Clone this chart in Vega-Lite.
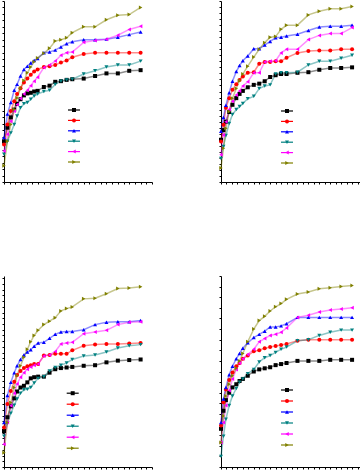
{
"$schema":"https://vega.github.io/schema/vega-lite/v6.json",
"background":"white",
"padding":{"left":1,"top":0,"right":0,"bottom":0},
"config":{"view":{"stroke":null},"axis":{"labels":false,"title":null,"grid":false,"domainColor":"black","tickColor":"black","tickSize":2,"domainWidth":1,"tickWidth":1},
"legend":{"orient":"none","title":null,"labelFontSize":10,"labelOffset":0,"symbolStrokeWidth":1.2,"rowPadding":0.4,"padding":0,"symbolOpacity":1}},
"datasets":{"d":[
{"p":1,"s":"a","x":0,"y":6.3},{"p":1,"s":"a","x":0.6,"y":8.4},{"p":1,"s":"a","x":1.2,"y":10.0},{"p":1,"s":"a","x":1.8,"y":11.2},{"p":1,"s":"a","x":2.3,"y":12.1},{"p":1,"s":"a","x":2.9,"y":12.8},{"p":1,"s":"a","x":3.5,"y":13.4},{"p":1,"s":"a","x":4.1,"y":13.7},{"p":1,"s":"a","x":4.7,"y":13.8},{"p":1,"s":"a","x":5.3,"y":14.0},{"p":1,"s":"a","x":5.9,"y":14.1},
{"p":1,"s":"a","x":7,"y":14.7},{"p":1,"s":"a","x":8,"y":14.9},{"p":1,"s":"a","x":9,"y":15.5},{"p":1,"s":"a","x":10,"y":15.6},{"p":1,"s":"a","x":11,"y":15.8},{"p":1,"s":"a","x":12,"y":15.9},{"p":1,"s":"a","x":14,"y":16.0},{"p":1,"s":"a","x":16,"y":16.4},{"p":1,"s":"a","x":18,"y":16.8},{"p":1,"s":"a","x":20,"y":16.8},{"p":1,"s":"a","x":22,"y":17.2},{"p":1,"s":"a","x":24,"y":17.3},
{"p":1,"s":"b","x":0,"y":5.8},{"p":1,"s":"b","x":0.6,"y":8.9},{"p":1,"s":"b","x":1.2,"y":11.0},{"p":1,"s":"b","x":1.8,"y":12.5},{"p":1,"s":"b","x":2.3,"y":13.6},{"p":1,"s":"b","x":2.9,"y":14.5},{"p":1,"s":"b","x":3.5,"y":15.4},{"p":1,"s":"b","x":4.1,"y":16.0},{"p":1,"s":"b","x":4.7,"y":16.6},{"p":1,"s":"b","x":5.3,"y":17.1},{"p":1,"s":"b","x":5.9,"y":17.4},
{"p":1,"s":"b","x":7,"y":17.8},{"p":1,"s":"b","x":8,"y":17.9},{"p":1,"s":"b","x":9,"y":18.1},{"p":1,"s":"b","x":10,"y":18.5},{"p":1,"s":"b","x":11,"y":18.8},{"p":1,"s":"b","x":12,"y":19.3},{"p":1,"s":"b","x":14,"y":19.8},{"p":1,"s":"b","x":16,"y":20.0},{"p":1,"s":"b","x":18,"y":20.0},{"p":1,"s":"b","x":20,"y":20.0},{"p":1,"s":"b","x":22,"y":20.0},{"p":1,"s":"b","x":24,"y":20.0},
{"p":1,"s":"c","x":0,"y":6.9},{"p":1,"s":"c","x":0.6,"y":10.5},{"p":1,"s":"c","x":1.2,"y":12.3},{"p":1,"s":"c","x":1.8,"y":14.2},{"p":1,"s":"c","x":2.3,"y":15.1},{"p":1,"s":"c","x":2.9,"y":16.4},{"p":1,"s":"c","x":3.5,"y":17.4},{"p":1,"s":"c","x":4.1,"y":17.9},{"p":1,"s":"c","x":4.7,"y":18.4},{"p":1,"s":"c","x":5.3,"y":18.8},{"p":1,"s":"c","x":5.9,"y":19.1},
{"p":1,"s":"c","x":7,"y":20.0},{"p":1,"s":"c","x":8,"y":20.1},{"p":1,"s":"c","x":9,"y":20.4},{"p":1,"s":"c","x":10,"y":20.9},{"p":1,"s":"c","x":11,"y":21.4},{"p":1,"s":"c","x":12,"y":21.7},{"p":1,"s":"c","x":14,"y":22.0},{"p":1,"s":"c","x":16,"y":22.0},{"p":1,"s":"c","x":18,"y":22.1},{"p":1,"s":"c","x":20,"y":22.4},{"p":1,"s":"c","x":22,"y":22.8},{"p":1,"s":"c","x":24,"y":23.2},
{"p":1,"s":"d","x":0,"y":4.3},{"p":1,"s":"d","x":0.6,"y":6.3},{"p":1,"s":"d","x":1.2,"y":7.6},{"p":1,"s":"d","x":1.8,"y":8.9},{"p":1,"s":"d","x":2.3,"y":10.2},{"p":1,"s":"d","x":2.9,"y":11.5},{"p":1,"s":"d","x":3.5,"y":12.1},{"p":1,"s":"d","x":4.1,"y":12.3},{"p":1,"s":"d","x":4.7,"y":12.8},{"p":1,"s":"d","x":5.3,"y":13.3},{"p":1,"s":"d","x":5.9,"y":13.6},
{"p":1,"s":"d","x":7,"y":14.0},{"p":1,"s":"d","x":8,"y":14.2},{"p":1,"s":"d","x":9,"y":15.1},{"p":1,"s":"d","x":10,"y":15.6},{"p":1,"s":"d","x":11,"y":15.8},{"p":1,"s":"d","x":12,"y":15.9},{"p":1,"s":"d","x":14,"y":16.7},{"p":1,"s":"d","x":16,"y":17.2},{"p":1,"s":"d","x":18,"y":17.8},{"p":1,"s":"d","x":20,"y":18.1},{"p":1,"s":"d","x":22,"y":18.1},{"p":1,"s":"d","x":24,"y":18.7},
{"p":1,"s":"e","x":0,"y":4.8},{"p":1,"s":"e","x":0.6,"y":7.4},{"p":1,"s":"e","x":1.2,"y":9.4},{"p":1,"s":"e","x":1.8,"y":11.0},{"p":1,"s":"e","x":2.3,"y":12.0},{"p":1,"s":"e","x":2.9,"y":12.9},{"p":1,"s":"e","x":3.5,"y":13.6},{"p":1,"s":"e","x":4.1,"y":14.2},{"p":1,"s":"e","x":4.7,"y":14.9},{"p":1,"s":"e","x":5.3,"y":15.6},{"p":1,"s":"e","x":5.9,"y":16.2},
{"p":1,"s":"e","x":7,"y":17.7},{"p":1,"s":"e","x":8,"y":18.1},{"p":1,"s":"e","x":9,"y":18.7},{"p":1,"s":"e","x":10,"y":19.6},{"p":1,"s":"e","x":11,"y":20.0},{"p":1,"s":"e","x":12,"y":20.1},{"p":1,"s":"e","x":14,"y":21.6},{"p":1,"s":"e","x":16,"y":21.9},{"p":1,"s":"e","x":18,"y":22.1},{"p":1,"s":"e","x":20,"y":22.7},{"p":1,"s":"e","x":22,"y":23.6},{"p":1,"s":"e","x":24,"y":24.1},
{"p":1,"s":"f","x":0,"y":2.5},{"p":1,"s":"f","x":0.6,"y":6.3},{"p":1,"s":"f","x":1.2,"y":8.9},{"p":1,"s":"f","x":1.8,"y":11.2},{"p":1,"s":"f","x":2.3,"y":13.0},{"p":1,"s":"f","x":2.9,"y":14.5},{"p":1,"s":"f","x":3.5,"y":15.7},{"p":1,"s":"f","x":4.1,"y":16.9},{"p":1,"s":"f","x":4.7,"y":17.8},{"p":1,"s":"f","x":5.3,"y":18.6},{"p":1,"s":"f","x":5.9,"y":19.2},
{"p":1,"s":"f","x":7,"y":19.9},{"p":1,"s":"f","x":8,"y":20.7},{"p":1,"s":"f","x":9,"y":21.8},{"p":1,"s":"f","x":10,"y":22.0},{"p":1,"s":"f","x":11,"y":22.3},{"p":1,"s":"f","x":12,"y":23.1},{"p":1,"s":"f","x":14,"y":24.0},{"p":1,"s":"f","x":16,"y":24.0},{"p":1,"s":"f","x":18,"y":25.1},{"p":1,"s":"f","x":20,"y":25.8},{"p":1,"s":"f","x":22,"y":25.9},{"p":1,"s":"f","x":24,"y":27.0},

{"p":2,"s":"a","x":0,"y":7.0},{"p":2,"s":"a","x":0.45,"y":8.6},{"p":2,"s":"a","x":0.9,"y":10.0},{"p":2,"s":"a","x":1.5,"y":11.6},{"p":2,"s":"a","x":2.1,"y":12.8},{"p":2,"s":"a","x":2.8,"y":13.9},{"p":2,"s":"a","x":3.4,"y":14.6},{"p":2,"s":"a","x":4.0,"y":15.1},{"p":2,"s":"a","x":4.9,"y":15.7},{"p":2,"s":"a","x":6.0,"y":16.1},
{"p":2,"s":"a","x":7,"y":16.3},{"p":2,"s":"a","x":8,"y":16.7},{"p":2,"s":"a","x":9,"y":17.4},{"p":2,"s":"a","x":10,"y":17.7},{"p":2,"s":"a","x":11,"y":17.9},{"p":2,"s":"a","x":12,"y":17.9},{"p":2,"s":"a","x":14,"y":18.1},{"p":2,"s":"a","x":16,"y":18.2},{"p":2,"s":"a","x":18,"y":18.6},{"p":2,"s":"a","x":20,"y":18.9},{"p":2,"s":"a","x":22,"y":18.9},{"p":2,"s":"a","x":24,"y":19.0},
{"p":2,"s":"b","x":0,"y":6.7},{"p":2,"s":"b","x":0.45,"y":9.5},{"p":2,"s":"b","x":0.9,"y":12.3},{"p":2,"s":"b","x":1.5,"y":13.9},{"p":2,"s":"b","x":2.1,"y":15.3},{"p":2,"s":"b","x":2.8,"y":16.2},{"p":2,"s":"b","x":3.4,"y":16.9},{"p":2,"s":"b","x":4.0,"y":17.5},{"p":2,"s":"b","x":4.9,"y":18.1},{"p":2,"s":"b","x":6.0,"y":18.2},
{"p":2,"s":"b","x":7,"y":19.6},{"p":2,"s":"b","x":8,"y":19.9},{"p":2,"s":"b","x":9,"y":19.9},{"p":2,"s":"b","x":10,"y":20.0},{"p":2,"s":"b","x":11,"y":20.0},{"p":2,"s":"b","x":12,"y":20.6},{"p":2,"s":"b","x":14,"y":21.4},{"p":2,"s":"b","x":16,"y":21.7},{"p":2,"s":"b","x":18,"y":21.8},{"p":2,"s":"b","x":20,"y":21.8},{"p":2,"s":"b","x":22,"y":22.0},{"p":2,"s":"b","x":24,"y":22.0},
{"p":2,"s":"c","x":0,"y":8.4},{"p":2,"s":"c","x":0.45,"y":10.7},{"p":2,"s":"c","x":0.9,"y":12.7},{"p":2,"s":"c","x":1.5,"y":14.8},{"p":2,"s":"c","x":2.1,"y":16.7},{"p":2,"s":"c","x":2.8,"y":18.3},{"p":2,"s":"c","x":3.4,"y":19.3},{"p":2,"s":"c","x":4.0,"y":20.1},{"p":2,"s":"c","x":4.9,"y":20.9},{"p":2,"s":"c","x":6.0,"y":22.1},
{"p":2,"s":"c","x":7,"y":22.1},{"p":2,"s":"c","x":8,"y":22.7},{"p":2,"s":"c","x":9,"y":23.3},{"p":2,"s":"c","x":10,"y":23.9},{"p":2,"s":"c","x":11,"y":24.0},{"p":2,"s":"c","x":12,"y":24.2},{"p":2,"s":"c","x":14,"y":24.5},{"p":2,"s":"c","x":16,"y":25.1},{"p":2,"s":"c","x":18,"y":25.7},{"p":2,"s":"c","x":20,"y":25.8},{"p":2,"s":"c","x":22,"y":25.8},{"p":2,"s":"c","x":24,"y":26.0},
{"p":2,"s":"d","x":0,"y":3.9},{"p":2,"s":"d","x":0.45,"y":5.9},{"p":2,"s":"d","x":0.9,"y":7.7},{"p":2,"s":"d","x":1.5,"y":9.7},{"p":2,"s":"d","x":2.1,"y":11.2},{"p":2,"s":"d","x":2.8,"y":12.0},{"p":2,"s":"d","x":3.4,"y":12.5},{"p":2,"s":"d","x":4.0,"y":13.0},{"p":2,"s":"d","x":4.9,"y":13.8},{"p":2,"s":"d","x":6.0,"y":14.2},
{"p":2,"s":"d","x":7,"y":15.5},{"p":2,"s":"d","x":8,"y":15.9},{"p":2,"s":"d","x":9,"y":16.1},{"p":2,"s":"d","x":10,"y":17.9},{"p":2,"s":"d","x":11,"y":18.1},{"p":2,"s":"d","x":12,"y":18.1},{"p":2,"s":"d","x":14,"y":18.2},{"p":2,"s":"d","x":16,"y":19.4},{"p":2,"s":"d","x":18,"y":20.0},{"p":2,"s":"d","x":20,"y":20.0},{"p":2,"s":"d","x":22,"y":20.5},{"p":2,"s":"d","x":24,"y":21.0},
{"p":2,"s":"e","x":0,"y":4.5},{"p":2,"s":"e","x":0.45,"y":7.8},{"p":2,"s":"e","x":0.9,"y":10.0},{"p":2,"s":"e","x":1.5,"y":12.0},{"p":2,"s":"e","x":2.1,"y":13.4},{"p":2,"s":"e","x":2.8,"y":14.4},{"p":2,"s":"e","x":3.4,"y":15.1},{"p":2,"s":"e","x":4.0,"y":15.9},{"p":2,"s":"e","x":4.9,"y":16.6},{"p":2,"s":"e","x":6.0,"y":18.1},
{"p":2,"s":"e","x":7,"y":18.1},{"p":2,"s":"e","x":8,"y":19.9},{"p":2,"s":"e","x":9,"y":20.0},{"p":2,"s":"e","x":10,"y":20.1},{"p":2,"s":"e","x":11,"y":21.4},{"p":2,"s":"e","x":12,"y":22.0},{"p":2,"s":"e","x":14,"y":22.0},{"p":2,"s":"e","x":16,"y":23.6},{"p":2,"s":"e","x":18,"y":24.3},{"p":2,"s":"e","x":20,"y":24.6},{"p":2,"s":"e","x":22,"y":24.6},{"p":2,"s":"e","x":24,"y":25.6},
{"p":2,"s":"f","x":0,"y":2.3},{"p":2,"s":"f","x":0.45,"y":5.6},{"p":2,"s":"f","x":0.9,"y":8.9},{"p":2,"s":"f","x":1.5,"y":11.7},{"p":2,"s":"f","x":2.1,"y":13.9},{"p":2,"s":"f","x":2.8,"y":15.5},{"p":2,"s":"f","x":3.4,"y":16.8},{"p":2,"s":"f","x":4.0,"y":17.9},{"p":2,"s":"f","x":4.9,"y":19.2},{"p":2,"s":"f","x":6.0,"y":20.7},
{"p":2,"s":"f","x":7,"y":22.0},{"p":2,"s":"f","x":8,"y":23.1},{"p":2,"s":"f","x":9,"y":24.0},{"p":2,"s":"f","x":10,"y":24.1},{"p":2,"s":"f","x":11,"y":25.3},{"p":2,"s":"f","x":12,"y":26.0},{"p":2,"s":"f","x":14,"y":26.0},{"p":2,"s":"f","x":16,"y":27.7},{"p":2,"s":"f","x":18,"y":28.3},{"p":2,"s":"f","x":20,"y":28.7},{"p":2,"s":"f","x":22,"y":28.7},{"p":2,"s":"f","x":24,"y":29.1},

{"p":3,"s":"a","x":0,"y":6.3},{"p":3,"s":"a","x":0.6,"y":8.7},{"p":3,"s":"a","x":1.2,"y":10.6},{"p":3,"s":"a","x":1.8,"y":12.0},{"p":3,"s":"a","x":2.3,"y":13.2},{"p":3,"s":"a","x":2.9,"y":13.9},{"p":3,"s":"a","x":3.5,"y":14.2},{"p":3,"s":"a","x":4.1,"y":14.8},{"p":3,"s":"a","x":4.7,"y":15.5},{"p":3,"s":"a","x":5.3,"y":15.7},{"p":3,"s":"a","x":6.0,"y":15.8},
{"p":3,"s":"a","x":7,"y":15.8},{"p":3,"s":"a","x":8,"y":16.5},{"p":3,"s":"a","x":9,"y":17.1},{"p":3,"s":"a","x":10,"y":17.3},{"p":3,"s":"a","x":11,"y":17.4},{"p":3,"s":"a","x":12,"y":17.5},{"p":3,"s":"a","x":14,"y":17.7},{"p":3,"s":"a","x":16,"y":17.8},{"p":3,"s":"a","x":18,"y":18.3},{"p":3,"s":"a","x":20,"y":18.6},{"p":3,"s":"a","x":22,"y":18.7},{"p":3,"s":"a","x":24,"y":18.8},
{"p":3,"s":"b","x":0,"y":6.9},{"p":3,"s":"b","x":0.6,"y":11.0},{"p":3,"s":"b","x":1.2,"y":13.3},{"p":3,"s":"b","x":1.8,"y":14.9},{"p":3,"s":"b","x":2.3,"y":16.1},{"p":3,"s":"b","x":2.9,"y":16.8},{"p":3,"s":"b","x":3.5,"y":17.3},{"p":3,"s":"b","x":4.1,"y":17.6},{"p":3,"s":"b","x":4.7,"y":17.8},{"p":3,"s":"b","x":5.3,"y":18.0},{"p":3,"s":"b","x":6.0,"y":18.0},
{"p":3,"s":"b","x":7,"y":19.5},{"p":3,"s":"b","x":8,"y":19.6},{"p":3,"s":"b","x":9,"y":19.8},{"p":3,"s":"b","x":10,"y":19.8},{"p":3,"s":"b","x":11,"y":19.8},{"p":3,"s":"b","x":12,"y":20.4},{"p":3,"s":"b","x":14,"y":21.2},{"p":3,"s":"b","x":16,"y":21.4},{"p":3,"s":"b","x":18,"y":21.5},{"p":3,"s":"b","x":20,"y":21.5},{"p":3,"s":"b","x":22,"y":21.6},{"p":3,"s":"b","x":24,"y":21.7},
{"p":3,"s":"c","x":0,"y":7.8},{"p":3,"s":"c","x":0.6,"y":12.5},{"p":3,"s":"c","x":1.2,"y":14.8},{"p":3,"s":"c","x":1.8,"y":16.5},{"p":3,"s":"c","x":2.3,"y":17.7},{"p":3,"s":"c","x":2.9,"y":18.8},{"p":3,"s":"c","x":3.5,"y":19.6},{"p":3,"s":"c","x":4.1,"y":20.1},{"p":3,"s":"c","x":4.7,"y":20.5},{"p":3,"s":"c","x":5.3,"y":21.1},{"p":3,"s":"c","x":6.0,"y":21.7},
{"p":3,"s":"c","x":7,"y":21.8},{"p":3,"s":"c","x":8,"y":22.5},{"p":3,"s":"c","x":9,"y":23.2},{"p":3,"s":"c","x":10,"y":23.6},{"p":3,"s":"c","x":11,"y":23.7},{"p":3,"s":"c","x":12,"y":23.7},{"p":3,"s":"c","x":14,"y":24.0},{"p":3,"s":"c","x":16,"y":24.9},{"p":3,"s":"c","x":18,"y":25.3},{"p":3,"s":"c","x":20,"y":25.4},{"p":3,"s":"c","x":22,"y":25.4},{"p":3,"s":"c","x":24,"y":25.6},
{"p":3,"s":"d","x":0,"y":5.4},{"p":3,"s":"d","x":0.6,"y":7.7},{"p":3,"s":"d","x":1.2,"y":9.4},{"p":3,"s":"d","x":1.8,"y":10.8},{"p":3,"s":"d","x":2.3,"y":11.9},{"p":3,"s":"d","x":2.9,"y":12.9},{"p":3,"s":"d","x":3.5,"y":13.5},{"p":3,"s":"d","x":4.1,"y":13.6},{"p":3,"s":"d","x":4.7,"y":13.9},{"p":3,"s":"d","x":5.3,"y":14.7},{"p":3,"s":"d","x":6.0,"y":15.5},
{"p":3,"s":"d","x":7,"y":15.8},{"p":3,"s":"d","x":8,"y":16.8},{"p":3,"s":"d","x":9,"y":17.4},{"p":3,"s":"d","x":10,"y":17.8},{"p":3,"s":"d","x":11,"y":18.2},{"p":3,"s":"d","x":12,"y":18.8},{"p":3,"s":"d","x":14,"y":19.4},{"p":3,"s":"d","x":16,"y":19.6},{"p":3,"s":"d","x":18,"y":20.1},{"p":3,"s":"d","x":20,"y":20.8},{"p":3,"s":"d","x":22,"y":21.2},{"p":3,"s":"d","x":24,"y":21.4},
{"p":3,"s":"e","x":0,"y":4.0},{"p":3,"s":"e","x":0.6,"y":7.8},{"p":3,"s":"e","x":1.2,"y":10.7},{"p":3,"s":"e","x":1.8,"y":12.9},{"p":3,"s":"e","x":2.3,"y":14.5},{"p":3,"s":"e","x":2.9,"y":15.7},{"p":3,"s":"e","x":3.5,"y":16.5},{"p":3,"s":"e","x":4.1,"y":17.1},{"p":3,"s":"e","x":4.7,"y":17.5},{"p":3,"s":"e","x":5.3,"y":17.8},{"p":3,"s":"e","x":6.0,"y":18.0},
{"p":3,"s":"e","x":7,"y":19.4},{"p":3,"s":"e","x":8,"y":19.6},{"p":3,"s":"e","x":9,"y":20.2},{"p":3,"s":"e","x":10,"y":21.5},{"p":3,"s":"e","x":11,"y":21.7},{"p":3,"s":"e","x":12,"y":21.8},{"p":3,"s":"e","x":14,"y":23.3},{"p":3,"s":"e","x":16,"y":23.6},{"p":3,"s":"e","x":18,"y":23.9},{"p":3,"s":"e","x":20,"y":24.9},{"p":3,"s":"e","x":22,"y":25.3},{"p":3,"s":"e","x":24,"y":25.4},
{"p":3,"s":"f","x":0,"y":2.5},{"p":3,"s":"f","x":0.6,"y":7.8},{"p":3,"s":"f","x":1.2,"y":11.3},{"p":3,"s":"f","x":1.8,"y":13.9},{"p":3,"s":"f","x":2.3,"y":16.0},{"p":3,"s":"f","x":2.9,"y":17.7},{"p":3,"s":"f","x":3.5,"y":19.2},{"p":3,"s":"f","x":4.1,"y":20.6},{"p":3,"s":"f","x":4.7,"y":21.9},{"p":3,"s":"f","x":5.3,"y":23.0},{"p":3,"s":"f","x":6.0,"y":23.9},
{"p":3,"s":"f","x":7,"y":24.9},{"p":3,"s":"f","x":8,"y":25.5},{"p":3,"s":"f","x":9,"y":26.1},{"p":3,"s":"f","x":10,"y":27.3},{"p":3,"s":"f","x":11,"y":27.7},{"p":3,"s":"f","x":12,"y":28.0},{"p":3,"s":"f","x":14,"y":29.4},{"p":3,"s":"f","x":16,"y":29.5},{"p":3,"s":"f","x":18,"y":30.3},{"p":3,"s":"f","x":20,"y":31.2},{"p":3,"s":"f","x":22,"y":31.3},{"p":3,"s":"f","x":24,"y":31.5},

{"p":4,"s":"a","x":0,"y":3.6},{"p":4,"s":"a","x":0.45,"y":5.3},{"p":4,"s":"a","x":0.9,"y":6.3},{"p":4,"s":"a","x":1.5,"y":7.0},{"p":4,"s":"a","x":2.1,"y":7.5},{"p":4,"s":"a","x":2.8,"y":7.8},{"p":4,"s":"a","x":3.4,"y":8.1},{"p":4,"s":"a","x":4.0,"y":8.3},{"p":4,"s":"a","x":4.9,"y":8.6},{"p":4,"s":"a","x":6.0,"y":9.0},
{"p":4,"s":"a","x":7,"y":9.2},{"p":4,"s":"a","x":8,"y":9.3},{"p":4,"s":"a","x":9,"y":9.4},{"p":4,"s":"a","x":10,"y":9.6},{"p":4,"s":"a","x":11,"y":9.7},{"p":4,"s":"a","x":12,"y":9.8},{"p":4,"s":"a","x":14,"y":10.0},{"p":4,"s":"a","x":16,"y":10.0},{"p":4,"s":"a","x":18,"y":10.0},{"p":4,"s":"a","x":20,"y":10.1},{"p":4,"s":"a","x":22,"y":10.1},{"p":4,"s":"a","x":24,"y":10.1},
{"p":4,"s":"b","x":0,"y":3.9},{"p":4,"s":"b","x":0.45,"y":6.1},{"p":4,"s":"b","x":0.9,"y":7.3},{"p":4,"s":"b","x":1.5,"y":8.2},{"p":4,"s":"b","x":2.1,"y":8.9},{"p":4,"s":"b","x":2.8,"y":9.5},{"p":4,"s":"b","x":3.4,"y":9.8},{"p":4,"s":"b","x":4.0,"y":10.2},{"p":4,"s":"b","x":4.9,"y":10.5},{"p":4,"s":"b","x":6.0,"y":10.9},
{"p":4,"s":"b","x":7,"y":11.0},{"p":4,"s":"b","x":8,"y":11.2},{"p":4,"s":"b","x":9,"y":11.3},{"p":4,"s":"b","x":10,"y":11.4},{"p":4,"s":"b","x":11,"y":11.5},{"p":4,"s":"b","x":12,"y":11.6},{"p":4,"s":"b","x":14,"y":11.9},{"p":4,"s":"b","x":16,"y":12.0},{"p":4,"s":"b","x":18,"y":12.0},{"p":4,"s":"b","x":20,"y":12.0},{"p":4,"s":"b","x":22,"y":12.0},{"p":4,"s":"b","x":24,"y":12.0},
{"p":4,"s":"c","x":0,"y":4.2},{"p":4,"s":"c","x":0.45,"y":6.4},{"p":4,"s":"c","x":0.9,"y":7.5},{"p":4,"s":"c","x":1.5,"y":8.7},{"p":4,"s":"c","x":2.1,"y":9.5},{"p":4,"s":"c","x":2.8,"y":10.2},{"p":4,"s":"c","x":3.4,"y":10.7},{"p":4,"s":"c","x":4.0,"y":11.2},{"p":4,"s":"c","x":4.9,"y":11.7},{"p":4,"s":"c","x":6.0,"y":12.2},
{"p":4,"s":"c","x":7,"y":12.5},{"p":4,"s":"c","x":8,"y":12.8},{"p":4,"s":"c","x":9,"y":13.2},{"p":4,"s":"c","x":10,"y":13.2},{"p":4,"s":"c","x":11,"y":13.3},{"p":4,"s":"c","x":12,"y":13.5},{"p":4,"s":"c","x":14,"y":14.1},{"p":4,"s":"c","x":16,"y":14.1},{"p":4,"s":"c","x":18,"y":14.1},{"p":4,"s":"c","x":20,"y":14.1},{"p":4,"s":"c","x":22,"y":14.1},{"p":4,"s":"c","x":24,"y":14.1},
{"p":4,"s":"d","x":0,"y":1.0},{"p":4,"s":"d","x":0.45,"y":2.9},{"p":4,"s":"d","x":0.9,"y":4.5},{"p":4,"s":"d","x":1.5,"y":5.8},{"p":4,"s":"d","x":2.1,"y":6.7},{"p":4,"s":"d","x":2.8,"y":7.4},{"p":4,"s":"d","x":3.4,"y":8.0},{"p":4,"s":"d","x":4.0,"y":8.3},{"p":4,"s":"d","x":4.9,"y":8.8},{"p":4,"s":"d","x":6.0,"y":9.2},
{"p":4,"s":"d","x":7,"y":9.9},{"p":4,"s":"d","x":8,"y":10.3},{"p":4,"s":"d","x":9,"y":10.5},{"p":4,"s":"d","x":10,"y":10.8},{"p":4,"s":"d","x":11,"y":11.1},{"p":4,"s":"d","x":12,"y":11.3},{"p":4,"s":"d","x":14,"y":11.9},{"p":4,"s":"d","x":16,"y":12.0},{"p":4,"s":"d","x":18,"y":12.4},{"p":4,"s":"d","x":20,"y":12.7},{"p":4,"s":"d","x":22,"y":12.9},{"p":4,"s":"d","x":24,"y":12.9},
{"p":4,"s":"e","x":0,"y":2.3},{"p":4,"s":"e","x":0.45,"y":4.2},{"p":4,"s":"e","x":0.9,"y":5.8},{"p":4,"s":"e","x":1.5,"y":7.2},{"p":4,"s":"e","x":2.1,"y":8.3},{"p":4,"s":"e","x":2.8,"y":9.2},{"p":4,"s":"e","x":3.4,"y":9.8},{"p":4,"s":"e","x":4.0,"y":10.2},{"p":4,"s":"e","x":4.9,"y":10.6},{"p":4,"s":"e","x":6.0,"y":11.1},
{"p":4,"s":"e","x":7,"y":11.8},{"p":4,"s":"e","x":8,"y":12.1},{"p":4,"s":"e","x":9,"y":12.4},{"p":4,"s":"e","x":10,"y":12.5},{"p":4,"s":"e","x":11,"y":12.7},{"p":4,"s":"e","x":12,"y":13.1},{"p":4,"s":"e","x":14,"y":14.1},{"p":4,"s":"e","x":16,"y":14.3},{"p":4,"s":"e","x":18,"y":14.6},{"p":4,"s":"e","x":20,"y":14.8},{"p":4,"s":"e","x":22,"y":14.9},{"p":4,"s":"e","x":24,"y":15.0},
{"p":4,"s":"f","x":0,"y":2.3},{"p":4,"s":"f","x":0.45,"y":4.8},{"p":4,"s":"f","x":0.9,"y":6.7},{"p":4,"s":"f","x":1.5,"y":7.8},{"p":4,"s":"f","x":2.1,"y":8.6},{"p":4,"s":"f","x":2.8,"y":9.3},{"p":4,"s":"f","x":3.4,"y":10.0},{"p":4,"s":"f","x":4.0,"y":10.7},{"p":4,"s":"f","x":4.9,"y":11.8},{"p":4,"s":"f","x":6.0,"y":13.0},
{"p":4,"s":"f","x":7,"y":13.8},{"p":4,"s":"f","x":8,"y":14.2},{"p":4,"s":"f","x":9,"y":14.7},{"p":4,"s":"f","x":10,"y":15.1},{"p":4,"s":"f","x":11,"y":15.4},{"p":4,"s":"f","x":12,"y":15.8},{"p":4,"s":"f","x":14,"y":16.3},{"p":4,"s":"f","x":16,"y":16.5},{"p":4,"s":"f","x":18,"y":16.8},{"p":4,"s":"f","x":20,"y":16.9},{"p":4,"s":"f","x":22,"y":17.0},{"p":4,"s":"f","x":24,"y":17.1}
]},
"data":{"name":"d"},
"spacing":90,
"resolve":{"scale":{"color":"independent","stroke":"independent","shape":"independent","x":"independent","y":"independent"},"legend":{"color":"independent","stroke":"independent","shape":"independent"}},
"vconcat":[
{"hconcat":[
 {"width":148,"height":181,"transform":[{"filter":"datum.p==1"}],
  "encoding":{
   "x":{"field":"x","type":"quantitative","scale":{"domain":[0,26],"nice":false},"axis":{"values":[0,1,2,3,4,5,6,7,8,9,10,11,12,13,14,15,16,17,18,19,20,21,22,23,24,25,26]}},
   "y":{"field":"y","type":"quantitative","scale":{"domain":[0,28],"nice":false},"axis":{"values":[0,1,2,3,4,5,6,7,8,9,10,11,12,13,14,15,16,17,18,19,20,21,22,23,24,25,26,27,28]}}},
  "layer":[
   {"mark":{"type":"line","strokeWidth":1.5,"opacity":0.45},"encoding":{"stroke":{"field":"s","type":"nominal","scale":{"domain":["a","b","c","d","e","f","z"],"range":["#000000","#ff0000","#0000ff","#008080","#ff00ff","#808000","#ffffff"]},"legend":{"values":["a","b","c","d","e","f"],"labelExpr":"' '","symbolType":"M-1.5,0H1.5","symbolSize":64,"legendX":65,"legendY":104}}}},
   {"mark":{"type":"point","filled":true,"size":16,"opacity":1},"encoding":{
     "color":{"field":"s","type":"nominal","scale":{"domain":["a","b","c","d","e","f"],"range":["#000000","#ff0000","#0000ff","#008080","#ff00ff","#808000"]},"legend":{"labelExpr":"' '","symbolSize":16,"legendX":65,"legendY":104}},
     "shape":{"field":"s","type":"nominal","scale":{"domain":["a","b","c","d","e","f"],"range":["square","circle","triangle-up","triangle-down","triangle-left","triangle-right"]},"legend":{"labelExpr":"' '","symbolSize":16,"legendX":65,"legendY":104}}}}
  ]},
 {"width":142,"height":181,"transform":[{"filter":"datum.p==2"}],
  "encoding":{
   "x":{"field":"x","type":"quantitative","scale":{"domain":[0,26],"nice":false},"axis":{"values":[0,1,2,3,4,5,6,7,8,9,10,11,12,13,14,15,16,17,18,19,20,21,22,23,24,25,26]}},
   "y":{"field":"y","type":"quantitative","scale":{"domain":[0,30],"nice":false},"axis":{"values":[0,1,2,3,4,5,6,7,8,9,10,11,12,13,14,15,16,17,18,19,20,21,22,23,24,25,26,27,28,29,30]}}},
  "layer":[
   {"mark":{"type":"line","strokeWidth":1.5,"opacity":0.45},"encoding":{"stroke":{"field":"s","type":"nominal","scale":{"domain":["a","b","c","d","e","f","z"],"range":["#000000","#ff0000","#0000ff","#008080","#ff00ff","#808000","#ffffff"]},"legend":{"values":["a","b","c","d","e","f"],"labelExpr":"' '","symbolType":"M-1.5,0H1.5","symbolSize":64,"legendX":61,"legendY":105}}}},
   {"mark":{"type":"point","filled":true,"size":16,"opacity":1},"encoding":{
     "color":{"field":"s","type":"nominal","scale":{"domain":["a","b","c","d","e","f"],"range":["#000000","#ff0000","#0000ff","#008080","#ff00ff","#808000"]},"legend":{"labelExpr":"' '","symbolSize":16,"legendX":61,"legendY":105}},
     "shape":{"field":"s","type":"nominal","scale":{"domain":["a","b","c","d","e","f"],"range":["square","circle","triangle-up","triangle-down","triangle-left","triangle-right"]},"legend":{"labelExpr":"' '","symbolSize":16,"legendX":61,"legendY":105}}}}
  ]}
 ],"spacing":65,
 "resolve":{"scale":{"color":"independent","stroke":"independent","shape":"independent","x":"independent","y":"independent"},"legend":{"color":"independent","stroke":"independent","shape":"independent"}}},
{"hconcat":[
 {"width":148,"height":191,"transform":[{"filter":"datum.p==3"}],
  "encoding":{
   "x":{"field":"x","type":"quantitative","scale":{"domain":[0,26],"nice":false},"axis":{"values":[0,1,2,3,4,5,6,7,8,9,10,11,12,13,14,15,16,17,18,19,20,21,22,23,24,25,26]}},
   "y":{"field":"y","type":"quantitative","scale":{"domain":[0,33.4],"nice":false},"axis":{"values":[0,1,2,3,4,5,6,7,8,9,10,11,12,13,14,15,16,17,18,19,20,21,22,23,24,25,26,27,28,29,30,31,32,33]}}},
  "layer":[
   {"mark":{"type":"line","strokeWidth":1.5,"opacity":0.45},"encoding":{"stroke":{"field":"s","type":"nominal","scale":{"domain":["a","b","c","d","e","f","z"],"range":["#000000","#ff0000","#0000ff","#008080","#ff00ff","#808000","#ffffff"]},"legend":{"values":["a","b","c","d","e","f"],"labelExpr":"' '","symbolType":"M-1.5,0H1.5","symbolSize":64,"legendX":63.7,"legendY":112.2,"rowPadding":1.0}}}},
   {"mark":{"type":"point","filled":true,"size":16,"opacity":1},"encoding":{
     "color":{"field":"s","type":"nominal","scale":{"domain":["a","b","c","d","e","f"],"range":["#000000","#ff0000","#0000ff","#008080","#ff00ff","#808000"]},"legend":{"labelExpr":"' '","symbolSize":16,"legendX":63.7,"legendY":112.2,"rowPadding":1.0}},
     "shape":{"field":"s","type":"nominal","scale":{"domain":["a","b","c","d","e","f"],"range":["square","circle","triangle-up","triangle-down","triangle-left","triangle-right"]},"legend":{"labelExpr":"' '","symbolSize":16,"legendX":63.7,"legendY":112.2,"rowPadding":1.0}}}}
  ]},
 {"width":142,"height":191,"transform":[{"filter":"datum.p==4"}],
  "encoding":{
   "x":{"field":"x","type":"quantitative","scale":{"domain":[0,26],"nice":false},"axis":{"values":[0,1,2,3,4,5,6,7,8,9,10,11,12,13,14,15,16,17,18,19,20,21,22,23,24,25,26]}},
   "y":{"field":"y","type":"quantitative","scale":{"domain":[0,18],"nice":false},"axis":{"values":[0,1,2,3,4,5,6,7,8,9,10,11,12,13,14,15,16,17,18]}}},
  "layer":[
   {"mark":{"type":"line","strokeWidth":1.5,"opacity":0.45},"encoding":{"stroke":{"field":"s","type":"nominal","scale":{"domain":["a","b","c","d","e","f","z"],"range":["#000000","#ff0000","#0000ff","#008080","#ff00ff","#808000","#ffffff"]},"legend":{"values":["a","b","c","d","e","f"],"labelExpr":"' '","symbolType":"M-1.5,0H1.5","symbolSize":64,"legendX":61,"legendY":109,"rowPadding":1.0}}}},
   {"mark":{"type":"point","filled":true,"size":16,"opacity":1},"encoding":{
     "color":{"field":"s","type":"nominal","scale":{"domain":["a","b","c","d","e","f"],"range":["#000000","#ff0000","#0000ff","#008080","#ff00ff","#808000"]},"legend":{"labelExpr":"' '","symbolSize":16,"legendX":61,"legendY":109,"rowPadding":1.0}},
     "shape":{"field":"s","type":"nominal","scale":{"domain":["a","b","c","d","e","f"],"range":["square","circle","triangle-up","triangle-down","triangle-left","triangle-right"]},"legend":{"labelExpr":"' '","symbolSize":16,"legendX":61,"legendY":109,"rowPadding":1.0}}}}
  ]}
 ],"spacing":65,
 "resolve":{"scale":{"color":"independent","stroke":"independent","shape":"independent","x":"independent","y":"independent"},"legend":{"color":"independent","stroke":"independent","shape":"independent"}}}
]
}
